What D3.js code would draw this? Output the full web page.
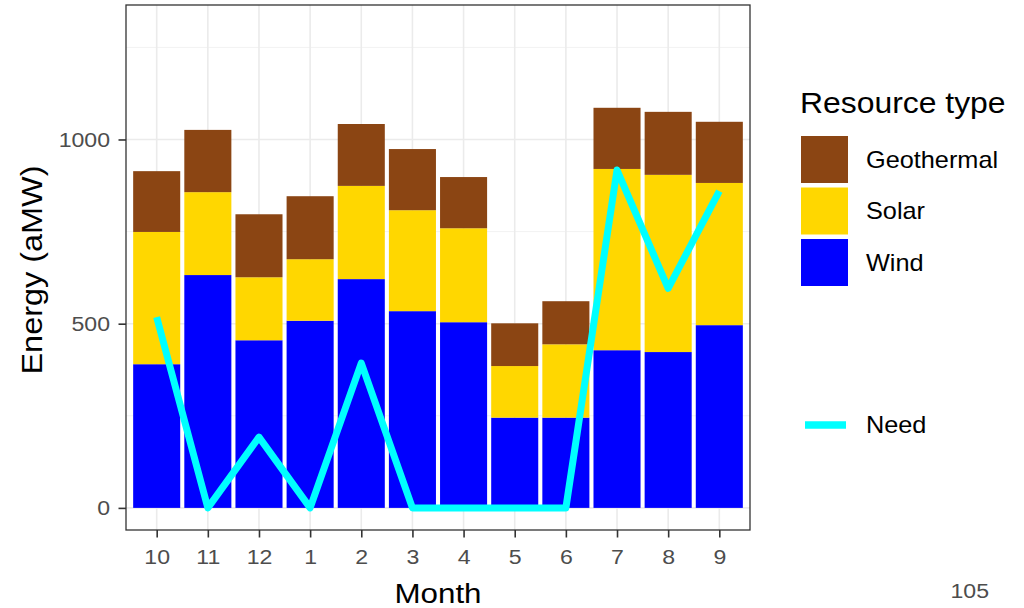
<!DOCTYPE html>
<html>
<head>
<meta charset="utf-8">
<script src="https://cdn.jsdelivr.net/npm/d3@7"></script>
<style>
  body { margin: 0; background: #fff; }
  text { font-family: "Liberation Sans", Arial, Helvetica, sans-serif; }
</style>
</head>
<body>
<svg id="chart" width="1024" height="608"></svg>
<script>
// Monthly resource output (aMW), water-year order
const months = ["10", "11", "12", "1", "2", "3", "4", "5", "6", "7", "8", "9"];
const wind       = [390, 632, 455, 508, 621, 534, 504, 245, 245, 428, 423, 496];
const solar      = [359, 225, 171, 167, 253, 274, 255, 140, 199, 492, 481, 386];
const geothermal = [165, 169, 171, 171, 168, 166, 139, 116, 117, 166, 171, 166];
const need       = [518, 0, 192, 0, 393, 0, 0, 0, 0, 917, 596, 860];

const resourceTypes = ["Geothermal", "Solar", "Wind"];
const resourceColors = { Geothermal: "#8B4513", Solar: "#FFD700", Wind: "#0000FF" };
const yTicks = [0, 500, 1000];
const yMinor = [250, 750, 1250];

const svg = d3.select("#chart");
const panel = { left: 126, right: 750, top: 5, bottom: 530 };
const SX = 1.1;         // horizontal glyph stretch used for all text
const TICK_LEN = 7.5;

const x = d3.scalePoint().domain(months).range([panel.left, panel.right]).padding(0.6);
const step = x.step();
const barW = step * 0.92;
const y = d3.scaleLinear().domain([-60, 1365]).range([panel.bottom, panel.top]);

// text helper: places a string at (tx, ty), optional rotation, stretched horizontally
function label(parent, tx, ty, str, size, opts = {}) {
  const rot = opts.rotate ? ` rotate(${opts.rotate})` : "";
  return parent.append("text")
    .attr("transform", `translate(${tx},${ty})${rot} scale(${SX},1)`)
    .attr("text-anchor", opts.anchor || "start")
    .attr("dy", opts.dy || null)
    .attr("font-size", size)
    .attr("fill", opts.fill || "#000")
    .text(str);
}

// Panel background and grid
const g = svg.append("g");
g.selectAll(".ymin").data(yMinor).join("line")
  .attr("x1", panel.left).attr("x2", panel.right)
  .attr("y1", d => y(d)).attr("y2", d => y(d))
  .attr("stroke", "#F2F2F2").attr("stroke-width", 1);
g.selectAll(".ymaj").data(yTicks).join("line")
  .attr("x1", panel.left).attr("x2", panel.right)
  .attr("y1", d => y(d)).attr("y2", d => y(d))
  .attr("stroke", "#EBEBEB").attr("stroke-width", 1.6);
g.selectAll(".xmaj").data(months).join("line")
  .attr("x1", d => x(d)).attr("x2", d => x(d))
  .attr("y1", panel.top).attr("y2", panel.bottom)
  .attr("stroke", "#EBEBEB").attr("stroke-width", 1.6);

// Stacked bars
const rows = months.map((m, i) => ({ month: m, Wind: wind[i], Solar: solar[i], Geothermal: geothermal[i] }));
const stack = d3.stack().keys(["Wind", "Solar", "Geothermal"]);
const layers = stack(rows);
g.selectAll(".layer").data(layers).join("g")
  .attr("fill", d => resourceColors[d.key])
  .selectAll("rect").data(d => d).join("rect")
  .attr("x", d => x(d.data.month) - barW / 2)
  .attr("width", barW)
  .attr("y", d => y(d[1]))
  .attr("height", d => y(d[0]) - y(d[1]));

// Need line
const line = d3.line().x((d, i) => x(months[i])).y(d => y(d));
g.append("path").datum(need)
  .attr("d", line)
  .attr("fill", "none")
  .attr("stroke", "#00FFFF")
  .attr("stroke-width", 7)
  .attr("stroke-linejoin", "round");

// Panel border
g.append("rect").attr("x", panel.left).attr("y", panel.top)
  .attr("width", panel.right - panel.left).attr("height", panel.bottom - panel.top)
  .attr("fill", "none").attr("stroke", "#333333").attr("stroke-width", 1.3);

// Axes
const yAxis = d3.axisLeft(y).tickValues(yTicks).tickFormat(d3.format("d")).tickSize(TICK_LEN);
const ya = svg.append("g").attr("transform", `translate(${panel.left},0)`).call(yAxis);
ya.select(".domain").remove();
ya.selectAll(".tick line").attr("stroke", "#333333").attr("stroke-width", 1.6);
ya.selectAll(".tick text")
  .attr("x", 0)
  .attr("transform", `translate(${-(TICK_LEN + 8.5)},0) scale(${SX},1)`)
  .attr("fill", "#4D4D4D").style("font-size", "21px")
  .style("font-family", "Liberation Sans, Arial, sans-serif");

const xAxis = d3.axisBottom(x).tickSize(TICK_LEN).tickPadding(11.5);
const xa = svg.append("g").attr("transform", `translate(0,${panel.bottom})`).call(xAxis);
xa.select(".domain").remove();
xa.selectAll(".tick line").attr("stroke", "#333333").attr("stroke-width", 1.6);
xa.selectAll(".tick text")
  .attr("transform", `scale(${SX},1)`)
  .attr("fill", "#4D4D4D").style("font-size", "21px")
  .style("font-family", "Liberation Sans, Arial, sans-serif");

// Axis titles
label(svg, (panel.left + panel.right) / 2, 603, "Month", 28.5, { anchor: "middle" });
label(svg, 41.5, 270, "Energy (aMW)", 29.5, { anchor: "middle", rotate: -90 });

// Legend: resource types
const lg = svg.append("g");
label(lg, 800, 113, "Resource type", 29);
const keySize = 47, keyGap = 4.5, keyTop = 136;
resourceTypes.forEach((t, i) => {
  const ky = keyTop + i * (keySize + keyGap);
  lg.append("rect").attr("x", 801).attr("y", ky).attr("width", keySize).attr("height", keySize)
    .attr("fill", resourceColors[t]);
  label(lg, 866, ky + keySize / 2, t, 23, { dy: "0.36em" });
});

// Legend: need
lg.append("line").attr("x1", 805).attr("x2", 846).attr("y1", 425).attr("y2", 425)
  .attr("stroke", "#00FFFF").attr("stroke-width", 7.5);
label(lg, 866, 425, "Need", 23, { dy: "0.36em" });

// Page number
label(svg, 989, 598, "105", 21, { anchor: "end", fill: "#4D4D4D" });
</script>
</body>
</html>
